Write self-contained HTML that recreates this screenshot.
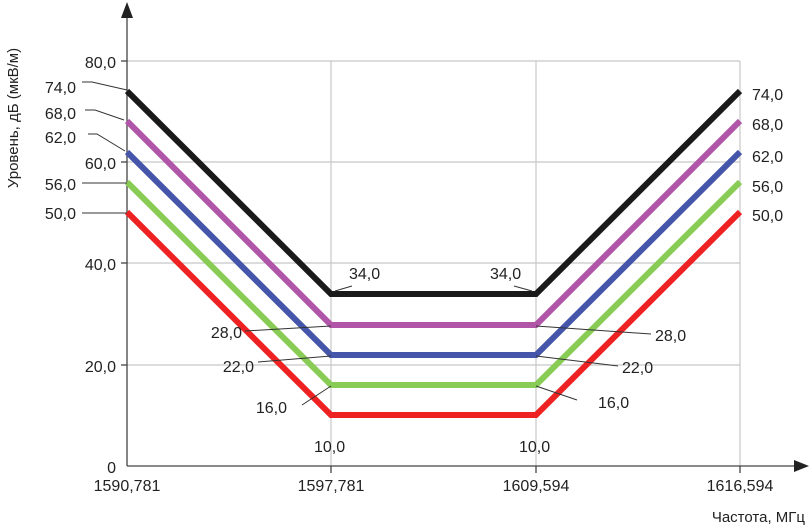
<!DOCTYPE html>
<html><head><meta charset="utf-8"><style>body{margin:0;background:#fff}svg{display:block}text{font-family:"Liberation Sans",sans-serif;font-size:16px;fill:#222}</style></head><body>
<svg width="810" height="528" viewBox="0 0 810 528">
<g stroke="#c8c8c8" stroke-width="1.2">
<line x1="127" y1="61" x2="740" y2="61"/><line x1="127" y1="162" x2="740" y2="162"/><line x1="127" y1="263" x2="740" y2="263"/><line x1="127" y1="365" x2="740" y2="365"/>
<line x1="331" y1="61" x2="331" y2="466"/><line x1="536" y1="61" x2="536" y2="466"/><line x1="740" y1="61" x2="740" y2="466"/>
</g>
<g stroke="#444" stroke-width="1.3">
<line x1="127" y1="10" x2="127" y2="466"/><line x1="127" y1="466" x2="798" y2="466"/>
<line x1="121" y1="61" x2="127" y2="61"/><line x1="121" y1="162" x2="127" y2="162"/><line x1="121" y1="263" x2="127" y2="263"/><line x1="121" y1="365" x2="127" y2="365"/>
<line x1="331" y1="466" x2="331" y2="473"/><line x1="536" y1="466" x2="536" y2="473"/><line x1="740" y1="466" x2="740" y2="473"/>
</g>
<polygon points="127,2 121,18 133,18" fill="#222"/>
<polygon points="809,466 794,460 794,472" fill="#222"/>
<g fill="none" stroke-width="6" stroke-linejoin="miter">
<polyline stroke="#ee2222" points="127,212 331,415 536,415 740,212"/>
<polyline stroke="#88cc55" points="127,182 331,385 536,385 740,182"/>
<polyline stroke="#4455aa" points="127,152 331,355 536,355 740,152"/>
<polyline stroke="#b055a8" points="127,121 331,325 536,325 740,121"/>
<polyline stroke="#1a1a1a" points="127,91 331,294 536,294 740,91"/>
</g>
<g stroke="#333" stroke-width="1" fill="none">
<polyline points="82,82 92,82 127,90"/><polyline points="85,110 95,110 124,120"/><polyline points="88,134 97,134 125,151"/><line x1="82" y1="183" x2="127" y2="183"/><line x1="82" y1="213" x2="127" y2="213"/>
<line x1="335" y1="291" x2="352" y2="286"/><line x1="514" y1="286" x2="532" y2="291"/>
<line x1="245" y1="331" x2="331" y2="326"/><line x1="536" y1="326" x2="651" y2="334"/>
<line x1="258" y1="362" x2="331" y2="356"/><line x1="536" y1="356" x2="618" y2="366"/>
<line x1="302" y1="405" x2="331" y2="386"/><line x1="536" y1="386" x2="577" y2="400"/>
</g>
<g text-anchor="end">
<text x="116" y="68">80,0</text><text x="116" y="169">60,0</text><text x="116" y="270">40,0</text><text x="116" y="372">20,0</text><text x="116" y="473">0</text>
<text x="76" y="93">74,0</text><text x="76" y="119">68,0</text><text x="76" y="143">62,0</text><text x="76" y="190">56,0</text><text x="76" y="219">50,0</text>
<text x="242" y="338">28,0</text><text x="254" y="372">22,0</text><text x="287" y="413">16,0</text>
</g>
<text x="752" y="100">74,0</text><text x="752" y="130">68,0</text><text x="752" y="162">62,0</text><text x="752" y="192">56,0</text><text x="752" y="221">50,0</text>
<text x="349" y="279">34,0</text><text x="490" y="279">34,0</text>
<text x="655" y="341">28,0</text><text x="622" y="373">22,0</text><text x="598" y="408">16,0</text>
<text x="314" y="452">10,0</text><text x="519" y="452">10,0</text>
<g text-anchor="middle"><text x="127" y="491">1590,781</text><text x="331" y="491">1597,781</text><text x="536" y="491">1609,594</text><text x="740" y="491">1616,594</text></g>
<text x="805" y="522" text-anchor="end" style="font-size:15px">Частота, МГц</text>
<text transform="translate(18,118) rotate(-90)" text-anchor="middle" style="font-size:15px">Уровень, дБ (мкВ/м)</text>
</svg>
</body></html>
